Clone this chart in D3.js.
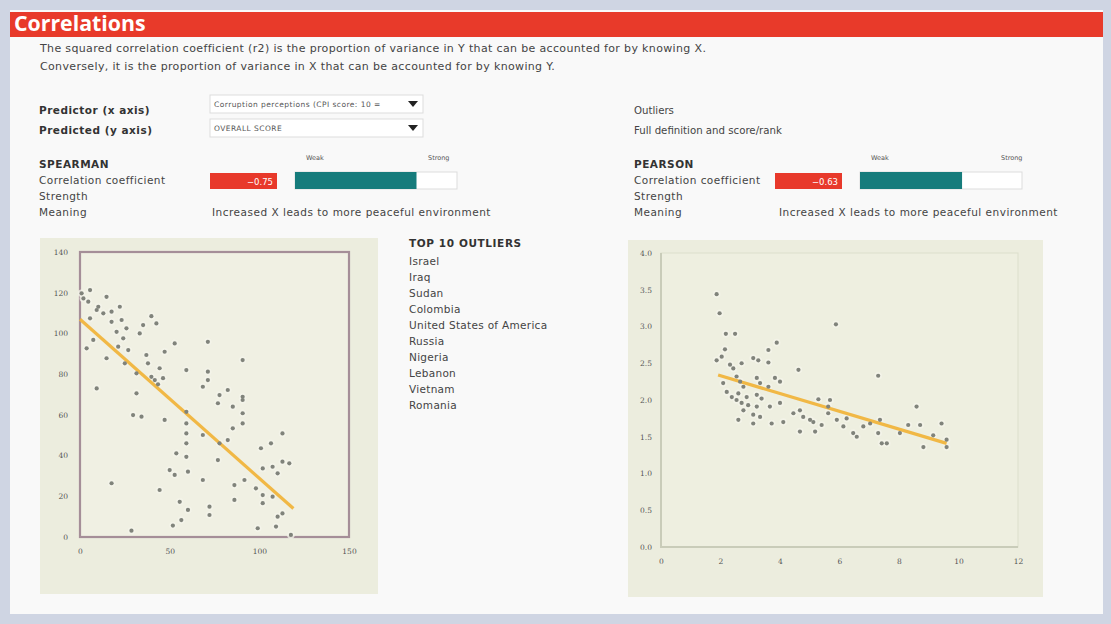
<!DOCTYPE html>
<html><head><meta charset="utf-8">
<script src="https://cdn.jsdelivr.net/npm/d3@7"></script>
<style>
body{margin:0;background:#cfd5e3;}
text{font-family:"DejaVu Sans",Verdana,sans-serif;}
</style></head>
<body>
<script>
// ---------- DATA ----------
const titleText = "Correlations";
const descLines = [
  "The squared correlation coefficient (r2) is the proportion of variance in Y that can be accounted for by knowing X.",
  "Conversely, it is the proportion of variance in X that can be accounted for by knowing Y."
];
const controlLabels = ["Predictor (x axis)", "Predicted (y axis)"];
const dropdownValues = ["Corruption perceptions (CPI score: 10 =", "OVERALL SCORE"];
const rightLinks = ["Outliers", "Full definition and score/rank"];
const statRows = ["Correlation coefficient", "Strength", "Meaning"];
const methods = ["SPEARMAN", "PEARSON"];
const coefficients = [-0.75, -0.63];
const meanings = ["Increased X leads to more peaceful environment", "Increased X leads to more peaceful environment"];
const strengthLabels = ["Weak", "Strong"];
const outlierTitle = "TOP 10 OUTLIERS";
const outliers = ["Israel","Iraq","Sudan","Colombia","United States of America","Russia","Nigeria","Lebanon","Vietnam","Romania"];

// Spearman (rank) scatter
const spearmanX = [0.9,5.6,4.6,1.9,14.8,10.2,9.3,13.0,17.6,22.2,5.6,17.6,23.2,25.9,20.4,24.1,39.8,42.6,35.2,33.3,7.4,3.7,14.8,21.3,26.9,52.8,71.3,47.2,37.0,37.9,44.4,46.3,59.3,71.3,71.3,68.5,90.7,82.4,77.8,76.9,85.2,90.7,90.7,90.7,90.7,9.3,31.5,29.6,34.3,47.2,59.3,59.3,59.3,59.3,59.3,60.2,68.5,85.2,82.4,77.8,76.9,53.7,50.0,52.8,68.5,17.6,44.4,55.6,60.2,72.2,72.2,56.5,51.8,28.7,86.1,86.1,91.7,98.1,101.9,101.9,107.4,100.9,106.5,112.9,112.9,116.7,107.4,110.2,101.9,110.2,109.3,112.9,99.1,117.6,25.0,31.5,39.8,43.5,41.7];
const spearmanY = [119.7,121.3,115.6,117.2,118.0,113.1,111.5,109.9,110.7,113.1,107.4,105.7,106.6,102.5,100.8,97.6,108.5,104.9,104.1,100.0,96.8,92.7,87.8,93.5,91.8,95.1,95.9,91.0,89.4,85.3,82.9,78.0,82.0,81.2,77.1,73.8,86.9,72.2,69.7,65.7,64.0,68.9,67.3,60.8,55.8,73.0,70.6,59.9,59.1,57.5,61.5,55.8,50.9,46.0,39.4,32.1,50.1,53.4,47.6,46.0,37.8,41.1,32.9,30.5,28.0,26.4,23.1,17.3,13.3,14.9,10.8,8.3,5.6,3.1,25.5,18.2,28.0,23.9,20.6,16.6,19.8,43.6,46.0,50.9,37.0,36.2,34.5,31.3,33.7,10.0,5.1,11.6,4.3,1.0,85.3,80.4,78.7,75.0,77.1];
const spearmanFit = [[0,107],[119,14]];
const spearmanXTicks = [0,50,100,150];
const spearmanYTicks = [0,20,40,60,80,100,120,140];

// Pearson scatter
const pearsonX = [1.87,1.97,5.88,2.18,2.49,3.89,3.61,2.15,2.04,1.87,3.10,3.27,3.61,2.32,2.43,2.71,4.62,7.30,2.54,2.66,3.22,3.33,3.83,4.00,2.09,2.77,2.21,2.60,2.88,2.54,2.71,2.93,3.22,3.38,3.22,4.00,2.60,3.10,3.33,3.10,3.72,4.11,4.45,4.67,4.78,5.01,5.12,4.67,5.18,5.40,5.29,5.68,5.62,5.91,6.13,6.24,6.46,6.58,6.80,7.36,7.30,7.42,7.59,8.03,8.31,8.59,8.71,9.15,9.43,9.60,8.82,9.60,3.61,2.38,2.77,3.66,5.62,7.03];
const pearsonY = [3.44,3.18,3.03,2.90,2.90,2.78,2.68,2.69,2.59,2.54,2.57,2.54,2.51,2.48,2.43,2.50,2.41,2.33,2.32,2.25,2.30,2.23,2.30,2.25,2.23,2.18,2.11,2.09,2.04,2.00,1.96,1.93,2.07,2.02,1.91,1.96,1.73,1.80,1.77,1.68,1.68,1.70,1.82,1.86,1.77,1.73,1.70,1.57,1.57,1.66,2.01,2.00,1.91,1.73,1.64,1.75,1.55,1.50,1.64,1.73,1.55,1.41,1.41,1.55,1.66,1.91,1.66,1.52,1.68,1.46,1.36,1.36,2.18,2.04,1.86,1.91,1.82,1.68];
const pearsonFit = [[1.92,2.34],[9.6,1.41]];
const pearsonXTicks = [0,2,4,6,8,10,12];
const pearsonYTicks = [0,0.5,1,1.5,2,2.5,3,3.5,4];

// ---------- DRAW ----------
const W = 1111, H = 624;
const svg = d3.select("body").append("svg").attr("width", W).attr("height", H)
  .style("display","block");

const FS = 10.5, LS = 0.45;

svg.append("rect").attr("width", W).attr("height", H).attr("fill", "#cfd5e3");
svg.append("rect").attr("x", 10).attr("y", 10).attr("width", 1093).attr("height", 604).attr("fill", "#f9f9f9");
svg.append("rect").attr("x", 10).attr("y", 12).attr("width", 1093).attr("height", 25).attr("fill", "#e83a2a");
svg.append("text").attr("x", 14).attr("y", 31).text(titleText)
  .attr("fill", "#fff").attr("font-size", 21.3).attr("font-weight", "bold")
  .style("font-family", "'Open Sans', sans-serif");

svg.selectAll("text.desc").data(descLines).join("text").attr("class","desc")
  .attr("x", 40).attr("y", (d,i) => 52 + i*18).text(d => d)
  .attr("font-size", 11).attr("letter-spacing", 0.35).attr("fill", "#444");

// left controls
svg.selectAll("text.ctl").data(controlLabels).join("text").attr("class","ctl")
  .attr("x", 39).attr("y", (d,i) => 114 + i*20).text(d => d)
  .attr("font-size", FS).attr("letter-spacing", 0.5).attr("font-weight", "bold").attr("fill", "#333");
const dd = svg.selectAll("g.dd").data(dropdownValues).join("g").attr("class","dd")
  .attr("transform", (d,i) => `translate(210,${95 + i*24})`);
dd.append("rect").attr("width", 213).attr("height", 18).attr("fill", "#fff").attr("stroke", "#ddd");
dd.append("text").attr("x", 4).attr("y", 12).text(d => d).attr("font-size", 7.5).attr("letter-spacing", 0.45).attr("fill", "#555");
dd.append("path").attr("d", "M198,6 L208,6 L203,12 Z").attr("fill", "#222");

svg.selectAll("text.link").data(rightLinks).join("text").attr("class","link")
  .attr("x", 634).attr("y", (d,i) => 114 + i*20).text(d => d)
  .attr("font-size", 10.2).attr("fill", "#444");

// stats blocks
const blocks = [
  {x: 39, box: 210, bar: 295, weak: 306, strong: 428, meaning: 212},
  {x: 634, box: 775, bar: 860, weak: 871, strong: 1001, meaning: 779}
];
const barW = 162;
const strengthScale = d3.scaleLinear().domain([0,1]).range([0, barW]);
blocks.forEach((b, k) => {
  const g = svg.append("g");
  g.append("text").attr("x", b.x).attr("y", 168).text(methods[k])
    .attr("font-size", FS).attr("letter-spacing", 0.5).attr("font-weight", "bold").attr("fill", "#333");
  g.selectAll("text.row").data(statRows).join("text").attr("class","row")
    .attr("x", b.x).attr("y", (d,i) => 184 + i*16).text(d => d)
    .attr("font-size", FS).attr("letter-spacing", LS).attr("fill", "#444");
  g.append("rect").attr("x", b.box).attr("y", 173).attr("width", 67).attr("height", 16).attr("fill", "#e8392b");
  g.append("text").attr("x", b.box + 63).attr("y", 185).attr("text-anchor","end")
    .text(d3.format(".2f")(coefficients[k])).attr("font-size", 8.5).attr("fill", "#fff");
  g.append("rect").attr("x", b.bar).attr("y", 172).attr("width", barW).attr("height", 17)
    .attr("fill", "#fff").attr("stroke", "#ddd");
  g.append("rect").attr("x", b.bar).attr("y", 172).attr("width", strengthScale(Math.abs(coefficients[k]))).attr("height", 17)
    .attr("fill", "#167c7c");
  g.append("text").attr("x", b.weak).attr("y", 160).text(strengthLabels[0]).attr("font-size", 6.5).attr("fill", "#555");
  g.append("text").attr("x", b.strong).attr("y", 160).text(strengthLabels[1]).attr("font-size", 6.5).attr("fill", "#555");
  g.append("text").attr("x", b.meaning).attr("y", 216).text(meanings[k])
    .attr("font-size", FS).attr("letter-spacing", 0.5).attr("fill", "#444");
});

// outliers list
svg.append("text").attr("x", 409).attr("y", 247).text(outlierTitle)
  .attr("font-size", FS).attr("letter-spacing", 0.6).attr("font-weight", "bold").attr("fill", "#333");
svg.selectAll("text.out").data(outliers).join("text").attr("class","out")
  .attr("x", 409).attr("y", (d,i) => 265 + i*16).text(d => d)
  .attr("font-size", FS).attr("letter-spacing", 0.3).attr("fill", "#444");

// ---------- scatter helper ----------
function scatter(opt) {
  const g = svg.append("g");
  g.append("rect").attr("x", opt.panel[0]).attr("y", opt.panel[1]).attr("width", opt.panel[2]).attr("height", opt.panel[3])
    .attr("fill", "#ecedde");
  const x = d3.scaleLinear().domain(opt.xDomain).range([opt.plot[0], opt.plot[2]]);
  const y = d3.scaleLinear().domain(opt.yDomain).range([opt.plot[3], opt.plot[1]]);
  g.append("rect").attr("x", opt.plot[0]).attr("y", opt.plot[1])
    .attr("width", opt.plot[2]-opt.plot[0]).attr("height", opt.plot[3]-opt.plot[1])
    .attr("fill", opt.plotFill).attr("stroke", opt.frame).attr("stroke-width", opt.frameW);
  if (opt.axisColor) {
    g.append("path").attr("d", `M${opt.plot[0]},${opt.plot[1]}V${opt.plot[3]}H${opt.plot[2]}`)
      .attr("fill","none").attr("stroke", opt.axisColor).attr("stroke-width", 2);
  }
  const xa = g.append("g").attr("transform", `translate(0,${opt.plot[3]})`)
    .call(d3.axisBottom(x).tickValues(opt.xTicks).tickSize(0).tickPadding(12).tickFormat(opt.xFmt));
  const ya = g.append("g").attr("transform", `translate(${opt.plot[0]},0)`)
    .call(d3.axisLeft(y).tickValues(opt.yTicks).tickSize(0).tickPadding(opt.yPad).tickFormat(opt.yFmt));
  [xa, ya].forEach(a => {
    a.select(".domain").remove();
    a.selectAll("text").attr("font-size", 7.5).attr("fill", "#555").style("font-family","'DejaVu Serif',serif");
  });
  const pts = d3.zip(opt.xs, opt.ys);
  g.selectAll("circle.halo").data(pts).join("circle").attr("class","halo")
    .attr("cx", d => x(d[0])).attr("cy", d => y(d[1])).attr("r", 3.8).attr("fill", "#f4f4ea").attr("opacity", 0.8);
  g.append("path").datum(opt.fit)
    .attr("d", d3.line().x(d => x(d[0])).y(d => y(d[1])))
    .attr("stroke", "#f0b43c").attr("stroke-width", 3.2).attr("fill", "none").attr("opacity", 0.95);
  g.selectAll("circle.pt").data(pts).join("circle").attr("class","pt")
    .attr("cx", d => x(d[0])).attr("cy", d => y(d[1])).attr("r", 2.1).attr("fill", "#80837b");
}

scatter({
  panel: [40, 238, 338, 356], plot: [80, 252, 349, 537], plotFill: "#f0f0e3",
  frame: "#a58e98", frameW: 2.2,
  xDomain: [0,150], yDomain: [0,140], xTicks: spearmanXTicks, yTicks: spearmanYTicks,
  xFmt: d3.format("d"), yFmt: d3.format("d"), yPad: 12,
  xs: spearmanX, ys: spearmanY, fit: spearmanFit
});
scatter({
  panel: [628, 240, 415, 357], plot: [661, 253, 1018, 547], plotFill: "#eeefe0",
  frame: "#dcdfcc", frameW: 1, axisColor: "#c9ccb9",
  xDomain: [0,12], yDomain: [0,4], xTicks: pearsonXTicks, yTicks: pearsonYTicks,
  xFmt: d3.format("d"), yFmt: d3.format(".1f"), yPad: 9,
  xs: pearsonX, ys: pearsonY, fit: pearsonFit
});
</script>
</body></html>
